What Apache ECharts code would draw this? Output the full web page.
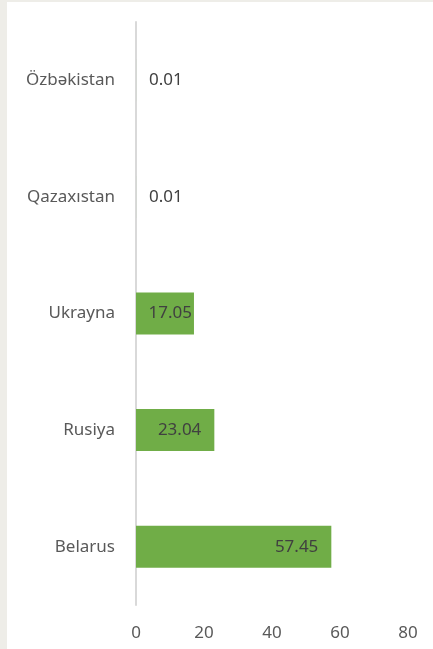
<!DOCTYPE html>
<html>
<head>
<meta charset="utf-8">
<script src="https://cdn.jsdelivr.net/npm/echarts@6/dist/echarts.min.js"></script>
<style>
  html, body { margin: 0; padding: 0; background: #eeede8; }
  #chart { position: absolute; left: 7px; top: 2px; width: 426px; height: 647px; background: #fff; }
</style>
</head>
<body>
<div id="chart"></div>
<script>
// categories, bottom to top
const countries = ["Belarus", "Rusiya", "Ukrayna", "Qazaxıstan", "Özbəkistan"];
const shares = [57.45, 23.04, 17.05, 0.01, 0.01];
const xTicks = [0, 20, 40, 60, 80];

const chart = echarts.init(document.getElementById("chart"));

// label placement: inside end when it fits, outside from the base otherwise
const data = shares.map((v) => {
  const item = { value: v };
  if (v < 1) {
    item.label = { position: "right", distance: 13 };
  } else if (v < 20) {
    item.label = { position: "insideRight", distance: 2 };
  }
  return item;
});

const option = {
  animation: false,
  grid: { left: 129, right: 25, top: 20, bottom: 44, containLabel: false },
  xAxis: {
    type: "value",
    min: xTicks[0],
    max: xTicks[xTicks.length - 1],
    interval: 20,
    axisLine: { show: false },
    axisTick: { show: false },
    splitLine: { show: false },
    axisLabel: {
      color: "#595959",
      fontFamily: "Noto Sans",
      fontSize: 17,
      margin: 20,
    },
  },
  yAxis: {
    type: "category",
    data: countries,
    axisLine: { show: true, lineStyle: { color: "#d9d9d9", width: 2 } },
    axisTick: { show: false },
    axisLabel: {
      color: "#595959",
      fontFamily: "Noto Sans",
      fontSize: 17,
      margin: 21,
    },
  },
  series: [
    {
      type: "bar",
      data: data,
      barCategoryGap: "64%",
      itemStyle: { color: "#70ad47" },
      label: {
        show: true,
        position: "insideRight",
        distance: 13,
        color: "#404040",
        fontFamily: "Noto Sans",
        fontSize: 17,
      },
    },
  ],
};

chart.setOption(option);
</script>
</body>
</html>
